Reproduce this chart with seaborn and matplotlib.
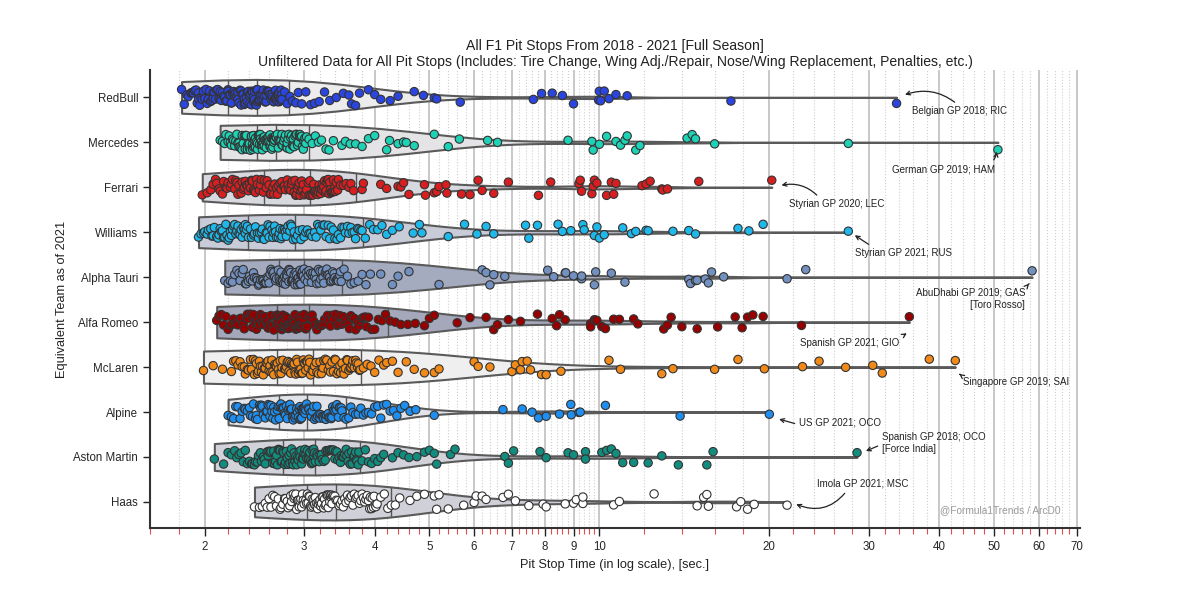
import numpy as np
import pandas as pd
import matplotlib.pyplot as plt
import matplotlib.ticker as mticker
import seaborn as sns

# Teams (top to bottom) and colours
teams = ["RedBull", "Mercedes", "Ferrari", "Williams", "Alpha Tauri",
         "Alfa Romeo", "McLaren", "Alpine", "Aston Martin", "Haas"]
team_colors = ["#2B45E0", "#1ED2B5", "#D81E1E", "#1FB8EA", "#7391C0",
               "#960000", "#F28A1A", "#1E8FF0", "#128C7E", "#FFFFFF"]
violin_fills = ["#ececec", "#e4e4e6", "#d8d9df", "#c8cbd8", "#a4abbf",
                "#a4a8ba", "#efefef", "#e3e4ea", "#d2d3da", "#cfd0d8"]

# Pit stop times [sec.]
redbull = [1.82, 1.84, 1.86, 1.87, 1.89, 1.9, 1.91, 1.92, 1.93, 1.94, 1.95, 1.95, 1.96, 1.97, 1.98,
           1.99, 1.99, 2.0, 2.01, 2.02, 2.03, 2.03, 2.04, 2.05, 2.06, 2.07, 2.07, 2.08, 2.09, 2.1,
           2.11, 2.12, 2.13, 2.13, 2.14, 2.15, 2.16, 2.17, 2.18, 2.19,
           2.2, 2.2, 2.21, 2.22, 2.23, 2.23, 2.24, 2.25, 2.26, 2.26, 2.27, 2.28, 2.29, 2.29, 2.3,
           2.31, 2.32, 2.32, 2.33, 2.34, 2.35, 2.35, 2.36, 2.37, 2.38, 2.38, 2.39, 2.4, 2.4, 2.41,
           2.42, 2.42, 2.43, 2.44, 2.44, 2.45, 2.45, 2.46, 2.47, 2.47,
           2.48, 2.48, 2.49, 2.5, 2.51, 2.51, 2.52, 2.53, 2.54, 2.54, 2.55, 2.56, 2.57, 2.57, 2.58,
           2.59, 2.6, 2.6, 2.61, 2.62, 2.63, 2.63, 2.64, 2.65, 2.65, 2.66, 2.67, 2.67, 2.68, 2.69,
           2.69, 2.7, 2.71, 2.71, 2.72, 2.72, 2.73, 2.73, 2.74, 2.74,
           2.77, 2.8, 2.83, 2.86, 2.9, 2.93, 2.97, 3.02, 3.08, 3.13, 3.19, 3.26, 3.33, 3.42,
           3.52, 3.6, 3.64, 3.7, 3.76, 3.9, 4.0, 4.1, 4.26, 4.4, 4.7, 4.88, 5.1, 5.15, 5.67,
           7.64, 7.9, 8.25, 8.6, 9.0, 9.97, 10.0, 10.05, 10.2, 10.4, 10.7, 11.2, 17.1, 33.6]
mercedes = [2.13, 2.15, 2.17, 2.18, 2.2, 2.21, 2.22, 2.23, 2.24, 2.25, 2.26, 2.27, 2.28, 2.29, 2.3,
            2.3, 2.31, 2.32, 2.33, 2.33, 2.34, 2.35, 2.36, 2.36, 2.37, 2.38, 2.38, 2.39, 2.4, 2.4,
            2.41, 2.42, 2.42, 2.43, 2.43, 2.44, 2.44, 2.45, 2.45, 2.46, 2.46, 2.47,
            2.48, 2.48, 2.49, 2.49, 2.5, 2.5, 2.51, 2.51, 2.52, 2.52, 2.53, 2.53, 2.54, 2.54, 2.55,
            2.55, 2.56, 2.56, 2.57, 2.57, 2.58, 2.58, 2.59, 2.59, 2.6, 2.6, 2.61, 2.61, 2.62, 2.62,
            2.63, 2.63, 2.63, 2.64, 2.64, 2.65, 2.65, 2.66, 2.66, 2.66, 2.67, 2.67,
            2.68, 2.69, 2.7, 2.7, 2.71, 2.72, 2.73, 2.74, 2.74, 2.75, 2.76, 2.77, 2.78, 2.79, 2.8,
            2.8, 2.81, 2.82, 2.83, 2.84, 2.85, 2.86, 2.87, 2.87, 2.88, 2.89, 2.9, 2.91, 2.92, 2.93,
            2.94, 2.95, 2.95, 2.96, 2.97, 2.98, 2.99, 3.0, 3.0, 3.01, 3.02, 3.03,
            3.06, 3.1, 3.14, 3.18, 3.22, 3.28,
            3.32, 3.38, 3.5, 3.55, 3.62, 3.7, 3.8, 3.9, 4.0, 4.2, 4.25, 4.4, 4.5, 4.55, 4.7, 5.1,
            5.4, 5.65, 6.34, 6.6, 8.8, 9.7, 9.75, 10.0, 10.3, 10.7, 10.9, 11.1, 11.2, 11.6, 11.8,
            14.3, 14.6, 14.8, 16.0, 27.6, 50.8]
ferrari = [1.98, 2.02, 2.05, 2.07, 2.09, 2.1, 2.12, 2.13, 2.15, 2.16, 2.18, 2.19, 2.2, 2.22, 2.23,
           2.24, 2.26, 2.27, 2.28, 2.29, 2.3, 2.32, 2.33, 2.34, 2.35, 2.36, 2.37, 2.38, 2.39, 2.4,
           2.41, 2.42, 2.43, 2.44, 2.45, 2.46, 2.47, 2.48, 2.5, 2.51,
           2.52, 2.54, 2.55, 2.57, 2.58, 2.6, 2.61, 2.62, 2.64, 2.65, 2.66, 2.68, 2.69, 2.7, 2.72,
           2.73, 2.74, 2.76, 2.77, 2.78, 2.8, 2.81, 2.82, 2.84, 2.85, 2.86, 2.88, 2.89, 2.9, 2.91,
           2.92, 2.93, 2.94, 2.95, 2.96, 2.97, 2.98, 2.99, 3.0, 3.02,
           3.03, 3.05, 3.06, 3.07, 3.08, 3.1, 3.11, 3.12, 3.13, 3.14, 3.15, 3.16, 3.17, 3.18, 3.19,
           3.2, 3.21, 3.22, 3.23, 3.24, 3.25, 3.26, 3.27, 3.28, 3.29, 3.3, 3.31, 3.32, 3.33, 3.34,
           3.35, 3.36, 3.37, 3.38, 3.39, 3.4, 3.41, 3.42, 3.44, 3.45,
           3.48, 3.52, 3.56, 3.6, 3.63, 3.67,
           3.8, 3.82, 4.1, 4.2, 4.4, 4.45, 4.5, 4.6, 4.9, 4.92, 5.1, 5.15, 5.2, 5.35, 5.37, 5.7,
           5.9, 6.1, 6.2, 6.5, 6.9, 7.8, 8.2, 9.2, 9.25, 9.3, 9.7, 9.75, 9.8, 9.9, 10.3, 10.5,
           10.6, 10.7, 11.9, 12.1, 12.3, 12.9, 12.95, 13.2, 15.0, 20.2]
williams = [1.95, 1.97, 1.99, 2.0, 2.02, 2.03, 2.05, 2.06, 2.07, 2.08, 2.1, 2.11, 2.12, 2.13, 2.14,
            2.15, 2.16, 2.17, 2.18, 2.19, 2.2, 2.21, 2.22, 2.23, 2.24, 2.25, 2.26, 2.27, 2.28, 2.29,
            2.3, 2.31, 2.32, 2.33, 2.34, 2.35, 2.36, 2.36, 2.37, 2.38,
            2.39, 2.41, 2.42, 2.44, 2.45, 2.46, 2.48, 2.49, 2.5, 2.52, 2.53, 2.54, 2.55, 2.57, 2.58,
            2.59, 2.6, 2.61, 2.63, 2.64, 2.65, 2.66, 2.67, 2.68, 2.7, 2.71, 2.72, 2.73, 2.74, 2.75,
            2.77, 2.78, 2.79, 2.8, 2.81, 2.83, 2.84, 2.85, 2.87, 2.88,
            2.9, 2.92, 2.94, 2.96, 2.98, 3.0, 3.02, 3.04, 3.06, 3.08, 3.1, 3.13, 3.15, 3.17, 3.19,
            3.21, 3.24, 3.26, 3.28, 3.31, 3.33, 3.35, 3.38, 3.4, 3.43, 3.45, 3.48, 3.5, 3.53, 3.55,
            3.58, 3.6, 3.63, 3.65, 3.68, 3.7, 3.73, 3.75, 3.78, 3.8,
            3.85, 3.92, 3.98, 4.05, 4.12, 4.2, 4.3, 4.42,
            4.68, 4.8, 4.85, 5.4, 5.77, 6.07, 6.3, 6.5, 7.4, 7.5, 7.77, 8.45, 8.6, 8.9, 9.35, 9.4,
            9.8, 9.9, 10.0, 10.2, 11.0, 11.4, 11.6, 12.1, 12.2, 13.5, 14.4, 14.8, 17.6, 18.4, 19.5,
            27.6]
alphatauri = [2.17, 2.2, 2.22, 2.24, 2.26, 2.28, 2.3, 2.31, 2.33, 2.34, 2.36, 2.37, 2.39, 2.4, 2.41,
              2.43, 2.44, 2.45, 2.47, 2.48, 2.49, 2.5, 2.51, 2.53, 2.54, 2.55, 2.56, 2.57, 2.58, 2.59,
              2.6, 2.61, 2.62, 2.63, 2.64, 2.65, 2.66, 2.67, 2.68, 2.7,
              2.71, 2.72, 2.72, 2.73, 2.74, 2.75, 2.75, 2.76, 2.77, 2.78, 2.79, 2.79, 2.8, 2.81, 2.82,
              2.82, 2.83, 2.84, 2.85, 2.86, 2.86, 2.87, 2.88, 2.89, 2.89, 2.9, 2.91, 2.92, 2.92, 2.93,
              2.94, 2.95, 2.95, 2.96, 2.96, 2.97, 2.97, 2.98, 2.98, 2.99,
              3.0, 3.01, 3.03, 3.04, 3.05, 3.06, 3.08, 3.09, 3.1, 3.11, 3.13, 3.14, 3.15, 3.16, 3.18,
              3.19, 3.2, 3.21, 3.23, 3.24, 3.25, 3.27, 3.28, 3.29, 3.3, 3.32, 3.33, 3.34, 3.35, 3.37,
              3.38, 3.39, 3.4, 3.42, 3.43, 3.44, 3.45, 3.47, 3.48, 3.49,
              3.53, 3.58, 3.63, 3.68, 3.74, 3.8, 3.86, 3.93,
              4.1, 4.3, 4.4, 4.6, 5.2, 6.2, 6.3, 6.4, 6.5, 6.8, 8.1, 8.3, 8.7, 8.72, 9.0, 9.3, 9.3,
              9.8, 9.85, 10.5, 11.1, 14.4, 14.5, 14.8, 14.9, 15.4, 15.6, 15.8, 16.6, 21.5, 23.2, 58.4]
alfaromeo = [2.1, 2.12, 2.14, 2.16, 2.18, 2.2, 2.22, 2.23, 2.25, 2.26, 2.28, 2.29, 2.31, 2.32, 2.34,
             2.35, 2.37, 2.38, 2.39, 2.41, 2.42, 2.43, 2.44, 2.46, 2.47, 2.48, 2.49, 2.5, 2.51, 2.52,
             2.53, 2.54, 2.56, 2.57, 2.58, 2.59, 2.6, 2.61, 2.62, 2.64, 2.65, 2.67,
             2.68, 2.69, 2.69, 2.7, 2.71, 2.72, 2.72, 2.73, 2.74, 2.75, 2.75, 2.76, 2.77, 2.78, 2.78,
             2.79, 2.8, 2.81, 2.82, 2.82, 2.83, 2.84, 2.85, 2.85, 2.86, 2.87, 2.88, 2.89, 2.89, 2.9,
             2.91, 2.92, 2.93, 2.93, 2.94, 2.95, 2.96, 2.96, 2.97, 2.98, 2.98, 2.99,
             3.0, 3.02, 3.04, 3.06, 3.08, 3.1, 3.12, 3.14, 3.16, 3.18, 3.2, 3.22, 3.24, 3.26, 3.28,
             3.3, 3.32, 3.34, 3.36, 3.38, 3.41, 3.43, 3.45, 3.47, 3.5, 3.52, 3.54, 3.56, 3.59, 3.61,
             3.63, 3.66, 3.68, 3.7, 3.73, 3.75, 3.77, 3.8, 3.82, 3.85, 3.87, 3.9,
             3.95, 4.0, 4.06, 4.12, 4.18, 4.26, 4.35, 4.45, 4.58, 4.72,
             4.9, 5.0, 5.1, 5.6, 5.9, 6.3, 6.5, 6.6, 6.9, 7.25, 7.77, 8.25, 8.4, 8.5, 8.7, 9.65,
             9.65, 9.8, 9.85, 9.9, 10.1, 10.25, 10.6, 10.85, 11.5, 11.7, 13.0, 13.2, 13.4, 14.0,
             14.9, 16.2, 17.4, 17.9, 18.3, 18.7, 19.5, 22.8, 35.4]
mclaren = [1.99, 2.07, 2.15, 2.23, 2.25, 2.27, 2.29, 2.31, 2.33, 2.35, 2.36, 2.38, 2.39, 2.41, 2.42,
           2.44, 2.45, 2.46, 2.47, 2.48, 2.49, 2.5, 2.51, 2.52, 2.53, 2.54, 2.55, 2.56, 2.57, 2.58,
           2.59, 2.6, 2.61, 2.62, 2.63, 2.64, 2.65, 2.66, 2.67, 2.68,
           2.69, 2.7, 2.71, 2.72, 2.73, 2.74, 2.75, 2.77, 2.78, 2.79, 2.8, 2.81, 2.82, 2.83, 2.84,
           2.85, 2.86, 2.87, 2.88, 2.89, 2.9, 2.91, 2.92, 2.93, 2.94, 2.95, 2.96, 2.97, 2.98, 2.99,
           3.0, 3.01, 3.02, 3.03, 3.04, 3.05, 3.06, 3.07, 3.08, 3.1,
           3.11, 3.13, 3.15, 3.16, 3.18, 3.2, 3.22, 3.24, 3.25, 3.27, 3.29, 3.31, 3.33, 3.34, 3.36,
           3.38, 3.4, 3.41, 3.43, 3.45, 3.47, 3.48, 3.5, 3.52, 3.53, 3.55, 3.57, 3.58, 3.6, 3.62,
           3.63, 3.65, 3.66, 3.68, 3.7, 3.71, 3.73, 3.74, 3.76, 3.77,
           3.82, 3.88, 3.94, 4.0, 4.07, 4.15,
           4.2, 4.3, 4.4, 4.55, 4.7, 4.9, 5.1, 5.2, 6.0, 6.1, 6.4, 7.0, 7.1, 7.25, 7.3, 7.45, 7.55,
           7.9, 8.05, 8.55, 10.4, 10.9, 12.9, 13.5, 16.0, 17.6, 19.6, 22.9, 24.5, 27.3, 30.5, 31.7,
           38.4, 42.7]
alpine = [2.2, 2.23, 2.25, 2.27, 2.29, 2.31, 2.33, 2.35, 2.36, 2.38, 2.4, 2.41, 2.43, 2.44, 2.46,
          2.47, 2.48, 2.5, 2.51, 2.52, 2.53, 2.54, 2.56, 2.57, 2.58, 2.59, 2.6, 2.61, 2.62, 2.63,
          2.64, 2.65, 2.66, 2.67, 2.69, 2.7,
          2.71, 2.72, 2.73, 2.74, 2.75, 2.76, 2.77, 2.78, 2.79, 2.8, 2.81, 2.82, 2.83, 2.84, 2.85,
          2.86, 2.87, 2.88, 2.89, 2.9, 2.91, 2.92, 2.93, 2.94, 2.95, 2.95, 2.96, 2.97, 2.97, 2.98,
          2.99, 2.99, 3.0, 3.01, 3.01, 3.02,
          3.03, 3.05, 3.06, 3.08, 3.09, 3.1, 3.12, 3.13, 3.15, 3.16, 3.17, 3.19, 3.2, 3.21, 3.23,
          3.24, 3.25, 3.27, 3.28, 3.29, 3.31, 3.32, 3.33, 3.35, 3.36, 3.37, 3.38, 3.4, 3.41, 3.42,
          3.43, 3.45, 3.46, 3.47, 3.49, 3.5,
          3.53, 3.56, 3.6, 3.63, 3.66, 3.7, 3.74, 3.78, 3.82, 3.86, 3.9, 3.95, 4.0, 4.05, 4.1,
          4.15, 4.2, 4.26, 4.32, 4.38, 4.45, 4.52, 4.62, 4.73,
          5.1, 6.75, 7.3, 7.6, 7.8, 8.05, 8.5, 8.9, 8.92, 9.2, 9.25, 10.25, 13.9, 20.0]
astonmartin = [2.08, 2.16, 2.2, 2.23, 2.26, 2.28, 2.3, 2.32, 2.34, 2.36, 2.38, 2.4, 2.42, 2.43, 2.45,
               2.46, 2.48, 2.49, 2.51, 2.52, 2.54, 2.55, 2.56, 2.58, 2.59, 2.6, 2.61, 2.62, 2.64, 2.65,
               2.66, 2.67, 2.68, 2.69, 2.7, 2.71, 2.72, 2.73, 2.74, 2.75,
               2.76, 2.77, 2.78, 2.79, 2.8, 2.81, 2.82, 2.83, 2.84, 2.85, 2.86, 2.87, 2.88, 2.89, 2.9,
               2.91, 2.92, 2.93, 2.94, 2.95, 2.96, 2.97, 2.98, 2.99, 3.0, 3.01, 3.02, 3.03, 3.04, 3.05,
               3.06, 3.07, 3.08, 3.09, 3.1, 3.1, 3.11, 3.12, 3.12, 3.13,
               3.14, 3.16, 3.17, 3.19, 3.2, 3.22, 3.23, 3.25, 3.27, 3.28, 3.3, 3.32, 3.33, 3.35, 3.36,
               3.38, 3.4, 3.41, 3.43, 3.44, 3.46, 3.48, 3.49, 3.51, 3.52, 3.54, 3.56, 3.57, 3.59, 3.6,
               3.62, 3.64, 3.65, 3.67, 3.68, 3.7, 3.71, 3.72, 3.74, 3.75,
               3.8, 3.85, 3.9, 3.95, 4.0, 4.05, 4.1, 4.15,
               4.3, 4.4, 4.5, 4.6, 4.75, 4.9, 5.0, 5.1, 5.15, 5.45, 5.55, 6.8, 6.9, 7.05, 7.85, 8.05,
               8.8, 9.0, 9.45, 9.45, 10.1, 10.3, 10.5, 10.7, 11.0, 11.5, 12.2, 12.9, 13.8, 15.5, 15.9,
               28.6]
haas = [2.45, 2.5, 2.53, 2.56, 2.58, 2.6, 2.62, 2.64, 2.66, 2.68, 2.7, 2.72, 2.73, 2.75, 2.77,
        2.78, 2.8, 2.81, 2.83, 2.84, 2.85, 2.87, 2.88, 2.89, 2.9, 2.91, 2.92, 2.93, 2.94, 2.95,
        2.96, 2.97, 2.98, 2.99, 3.0, 3.02,
        3.03, 3.04, 3.05, 3.06, 3.07, 3.08, 3.09, 3.1, 3.11, 3.12, 3.13, 3.14, 3.15, 3.16, 3.17,
        3.18, 3.19, 3.2, 3.21, 3.22, 3.23, 3.24, 3.25, 3.26, 3.27, 3.28, 3.29, 3.3, 3.31, 3.32,
        3.33, 3.34, 3.35, 3.35, 3.36, 3.37,
        3.38, 3.4, 3.42, 3.44, 3.46, 3.48, 3.5, 3.52, 3.54, 3.56, 3.58, 3.6, 3.62, 3.64, 3.66,
        3.68, 3.7, 3.72, 3.74, 3.76, 3.78, 3.8, 3.82, 3.84, 3.86, 3.88, 3.9, 3.92, 3.93, 3.95,
        3.96, 3.98, 3.99, 4.01, 4.02, 4.04,
        4.1, 4.16, 4.22, 4.28, 4.35, 4.43,
        4.62, 4.75, 4.9, 5.1, 5.15, 5.2, 5.4, 5.75, 6.0, 6.05, 6.2, 6.3, 6.75, 6.9, 7.1, 7.5,
        7.95, 8.05, 8.7, 9.0, 9.1, 9.35, 9.35, 10.6, 10.85, 12.5, 14.9, 15.3, 15.5, 15.6, 17.5,
        17.8, 18.3, 18.8, 21.5]

# Outlier annotations: label, point (time, row), text position, arrow settings
notes = [
    ("Belgian GP 2018; RIC", (34.6, -0.05), (35.8, 0.31), "left", (0.5, 1.0), 0.3),
    ("German GP 2019; HAM", (50.6, 1.18), (50.2, 1.6), "right", (0.95, 1.0), 0.2),
    ("Styrian GP 2020; LEC", (20.9, 1.96), (21.7, 2.38), "left", (0.33, 1.0), 0.3),
    ("Styrian GP 2021; RUS", (28.2, 3.05), (28.4, 3.47), "left", (0.2, 1.0), 0.0),
    ("AbuDhabi GP 2019; GAS\n[Toro Rosso]", (57.9, 4.12), (56.8, 4.48), "right", (1.0, 1.0), 0.0),
    ("Spanish GP 2021; GIO", (35.2, 5.23), (22.7, 5.46), "left", (1.0, 1.0), 0.0),
    ("Singapore GP 2019; SAI", (43.4, 6.15), (44.1, 6.33), "left", (0.0, 1.0), 0.0),
    ("US GP 2021; OCO", (20.7, 7.15), (22.6, 7.24), "left", (0.0, 0.3), 0.0),
    ("Spanish GP 2018; OCO\n[Force India]", (29.5, 7.88), (31.7, 7.69), "left", (0.0, 0.45), 0.0),
    ("Imola GP 2021; MSC", (22.2, 9.04), (24.3, 8.6), "left", (0.34, 0.0), -0.4),
]

times = [redbull, mercedes, ferrari, williams, alphatauri,
         alfaromeo, mclaren, alpine, astonmartin, haas]
df = pd.DataFrame({
    "team": np.repeat(teams, [len(t) for t in times]),
    "time": np.concatenate(times),
})

sns.set_style("ticks")
plt.rcParams["font.family"] = ["Liberation Sans", "DejaVu Sans"]

fig = plt.figure(figsize=(12, 5.95), dpi=100)
ax = fig.add_axes([0.125, 0.1126, 0.775, 0.7698])

# KDE on the raw seconds, shown afterwards on a log axis
sns.violinplot(data=df, x="time", y="team", hue="team", order=teams, hue_order=teams,
               palette=dict(zip(teams, violin_fills)), saturation=1, cut=0,
               density_norm="width", width=0.8, inner="quart",
               inner_kws=dict(color="#555555", linewidth=1.0, dashes=(None, None)),
               linecolor="#5a5a5a", linewidth=1.5, legend=False, ax=ax)
sns.stripplot(data=df, x="time", y="team", hue="team", order=teams, hue_order=teams,
              palette=dict(zip(teams, team_colors)), jitter=0.18, size=6,
              edgecolor="#333333", linewidth=0.8, legend=False, zorder=3, ax=ax)

ax.set_xscale("log")
ax.set_xlim(1.6, 71)
ax.set_ylim(9.58, -0.61)
ax.xaxis.set_major_locator(mticker.LogLocator(base=10, subs=np.arange(1, 10), numticks=50))
ax.xaxis.set_major_formatter(mticker.FuncFormatter(lambda v, p: f"{v:g}"))
ax.xaxis.set_minor_locator(mticker.LogLocator(base=10, subs=np.arange(1, 10, 0.2), numticks=50))
ax.xaxis.set_minor_formatter(mticker.NullFormatter())
ax.tick_params(axis="x", which="major", length=6, width=1, color="#222222", labelsize=8.3)
ax.tick_params(axis="x", which="minor", length=4, width=0.8, color="#e05050")
ax.tick_params(axis="y", length=5, width=1, color="#222222", labelsize=8.3)
ax.set_axisbelow(True)
ax.grid(axis="x", which="major", color="#c4c4c4", linewidth=1.3)
ax.grid(axis="x", which="minor", color="#cfcfcf", linestyle=":", linewidth=0.8)

for side in ["top", "right"]:
    ax.spines[side].set_visible(False)
for side in ["left", "bottom"]:
    ax.spines[side].set_color("#333333")
    ax.spines[side].set_linewidth(1.5)

ax.set_xlabel("Pit Stop Time (in log scale), [sec.]", fontsize=9.2, color="#222222")
ax.set_ylabel("Equivalent Team as of 2021", fontsize=9.2, color="#222222")
ax.set_title("All F1 Pit Stops From 2018 - 2021 [Full Season]\n"
             "Unfiltered Data for All Pit Stops (Includes: Tire Change, Wing Adj./Repair, "
             "Nose/Wing Replacement, Penalties, etc.)", fontsize=10.1, color="#222222", pad=3)

for label, xy, xytext, ha, relpos, rad in notes:
    ax.annotate(label, xy=xy, xytext=xytext, ha=ha, va="center", fontsize=7,
                color="#222222", multialignment=ha,
                arrowprops=dict(arrowstyle="->", color="#222222", lw=0.9, relpos=relpos,
                                shrinkA=1, shrinkB=1,
                                connectionstyle=f"arc3,rad={rad}"))

ax.text(0.849, 0.039, "@Formula1Trends / ArcD0", transform=ax.transAxes,
        fontsize=7.3, color="#999999", va="center")

fig.savefig("out.png", dpi=100)
